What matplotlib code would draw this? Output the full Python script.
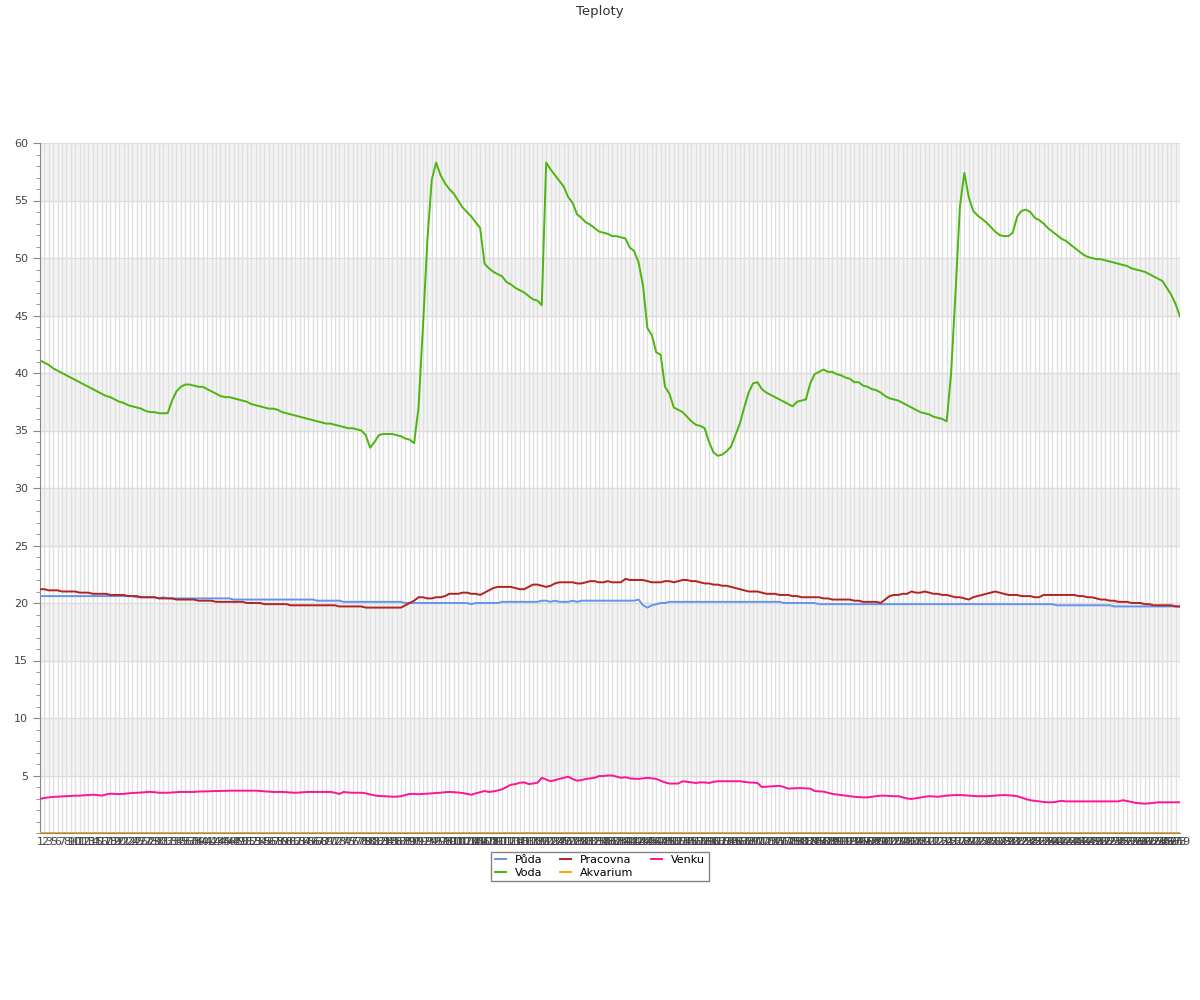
import matplotlib
matplotlib.use("Agg")
from matplotlib import pyplot as plt
from matplotlib.ticker import MultipleLocator

# teploty - hodnoty
voda = [41.1, 40.9, 40.7, 40.4, 40.2, 40.0, 39.8, 39.6, 39.4, 39.2,
        39.0, 38.8, 38.6, 38.4, 38.2, 38.0, 37.9, 37.7, 37.5, 37.4,
        37.2, 37.1, 37.0, 36.9, 36.7, 36.6, 36.6, 36.5, 36.5, 36.5,
        37.6, 38.4, 38.8, 39.0, 39.0, 38.9, 38.8, 38.8, 38.6, 38.4,
        38.2, 38.0, 37.9, 37.9, 37.8, 37.7, 37.6, 37.5, 37.3, 37.2,
        37.1, 37.0, 36.9, 36.9, 36.8, 36.6, 36.5, 36.4, 36.3, 36.2,
        36.1, 36.0, 35.9, 35.8, 35.7, 35.6, 35.6, 35.5, 35.4, 35.3,
        35.2, 35.2, 35.1, 35.0, 34.6, 33.5, 34.0, 34.6, 34.7, 34.7,
        34.7, 34.6, 34.5, 34.3, 34.2, 33.9, 37.0, 44.0, 51.5, 56.8,
        58.3, 57.2, 56.5, 56.0, 55.6, 55.0, 54.4, 54.0, 53.6, 53.1,
        52.6, 49.5, 49.1, 48.8, 48.6, 48.4, 47.9, 47.7, 47.4, 47.2,
        47.0, 46.7, 46.4, 46.3, 45.9, 58.3, 57.7, 57.2, 56.7, 56.2,
        55.3, 54.8, 53.8, 53.5, 53.1, 52.9, 52.6, 52.3, 52.2, 52.1,
        51.9, 51.9, 51.8, 51.7, 50.9, 50.6, 49.6, 47.6, 43.9, 43.3,
        41.8, 41.6, 38.8, 38.2, 37.0, 36.8, 36.6, 36.2, 35.8, 35.5,
        35.4, 35.2, 34.0, 33.1, 32.8, 32.9, 33.2, 33.6, 34.6, 35.6,
        37.0, 38.3, 39.1, 39.2, 38.6, 38.3, 38.1, 37.9, 37.7, 37.5,
        37.3, 37.1, 37.5, 37.6, 37.7, 39.1, 39.9, 40.1, 40.3, 40.1,
        40.1, 39.9, 39.8, 39.6, 39.5, 39.2, 39.2, 38.9, 38.8, 38.6,
        38.5, 38.3, 38.0, 37.8, 37.7, 37.6, 37.4, 37.2, 37.0, 36.8,
        36.6, 36.5, 36.4, 36.2, 36.1, 36.0, 35.8, 40.0, 47.0, 54.5,
        57.4, 55.3, 54.1, 53.7, 53.4, 53.1, 52.7, 52.3, 52.0, 51.9,
        51.9, 52.2, 53.6, 54.1, 54.2, 54.0, 53.5, 53.3, 53.0, 52.6,
        52.3, 52.0, 51.7, 51.5, 51.2, 50.9, 50.6, 50.3, 50.1, 50.0,
        49.9, 49.9, 49.8, 49.7, 49.6, 49.5, 49.4, 49.3, 49.1, 49.0,
        48.9, 48.8, 48.6, 48.4, 48.2, 48.0, 47.4, 46.8, 46.0, 44.9]

pracovna = [21.2, 21.2, 21.1, 21.1, 21.1, 21.0, 21.0, 21.0, 21.0, 20.9,
            20.9, 20.9, 20.8, 20.8, 20.8, 20.8, 20.7, 20.7, 20.7, 20.7,
            20.6, 20.6, 20.6, 20.5, 20.5, 20.5, 20.5, 20.4, 20.4, 20.4,
            20.4, 20.3, 20.3, 20.3, 20.3, 20.3, 20.2, 20.2, 20.2, 20.2,
            20.1, 20.1, 20.1, 20.1, 20.1, 20.1, 20.1, 20.0, 20.0, 20.0,
            20.0, 19.9, 19.9, 19.9, 19.9, 19.9, 19.9, 19.8, 19.8, 19.8,
            19.8, 19.8, 19.8, 19.8, 19.8, 19.8, 19.8, 19.8, 19.7, 19.7,
            19.7, 19.7, 19.7, 19.7, 19.6, 19.6, 19.6, 19.6, 19.6, 19.6,
            19.6, 19.6, 19.6, 19.8, 20.0, 20.2, 20.5, 20.5, 20.4, 20.4,
            20.5, 20.5, 20.6, 20.8, 20.8, 20.8, 20.9, 20.9, 20.8, 20.8,
            20.7, 20.9, 21.1, 21.3, 21.4, 21.4, 21.4, 21.4, 21.3, 21.2,
            21.2, 21.4, 21.6, 21.6, 21.5, 21.4, 21.5, 21.7, 21.8, 21.8,
            21.8, 21.8, 21.7, 21.7, 21.8, 21.9, 21.9, 21.8, 21.8, 21.9,
            21.8, 21.8, 21.8, 22.1, 22.0, 22.0, 22.0, 22.0, 21.9, 21.8,
            21.8, 21.8, 21.9, 21.9, 21.8, 21.9, 22.0, 22.0, 21.9, 21.9,
            21.8, 21.7, 21.7, 21.6, 21.6, 21.5, 21.5, 21.4, 21.3, 21.2,
            21.1, 21.0, 21.0, 21.0, 20.9, 20.8, 20.8, 20.8, 20.7, 20.7,
            20.7, 20.6, 20.6, 20.5, 20.5, 20.5, 20.5, 20.5, 20.4, 20.4,
            20.3, 20.3, 20.3, 20.3, 20.3, 20.2, 20.2, 20.1, 20.1, 20.1,
            20.1, 20.0, 20.3, 20.6, 20.7, 20.7, 20.8, 20.8, 21.0, 20.9,
            20.9, 21.0, 20.9, 20.8, 20.8, 20.7, 20.7, 20.6, 20.5, 20.5,
            20.4, 20.3, 20.5, 20.6, 20.7, 20.8, 20.9, 21.0, 20.9, 20.8,
            20.7, 20.7, 20.7, 20.6, 20.6, 20.6, 20.5, 20.5, 20.7, 20.7,
            20.7, 20.7, 20.7, 20.7, 20.7, 20.7, 20.6, 20.6, 20.5, 20.5,
            20.4, 20.3, 20.3, 20.2, 20.2, 20.1, 20.1, 20.1, 20.0, 20.0,
            20.0, 19.9, 19.9, 19.8, 19.8, 19.8, 19.8, 19.8, 19.7, 19.7]

puda = [20.6, 20.6, 20.6, 20.6, 20.6, 20.6, 20.6, 20.6, 20.6, 20.6,
        20.6, 20.6, 20.6, 20.6, 20.6, 20.6, 20.6, 20.6, 20.6, 20.6,
        20.6, 20.6, 20.5, 20.5, 20.5, 20.5, 20.5, 20.4, 20.5, 20.4,
        20.4, 20.4, 20.4, 20.4, 20.4, 20.4, 20.4, 20.4, 20.4, 20.4,
        20.4, 20.4, 20.4, 20.4, 20.3, 20.3, 20.3, 20.3, 20.3, 20.3,
        20.3, 20.3, 20.3, 20.3, 20.3, 20.3, 20.3, 20.3, 20.3, 20.3,
        20.3, 20.3, 20.3, 20.2, 20.2, 20.2, 20.2, 20.2, 20.2, 20.1,
        20.1, 20.1, 20.1, 20.1, 20.1, 20.1, 20.1, 20.1, 20.1, 20.1,
        20.1, 20.1, 20.1, 20.0, 20.0, 20.0, 20.0, 20.0, 20.0, 20.0,
        20.0, 20.0, 20.0, 20.0, 20.0, 20.0, 20.0, 20.0, 19.9, 20.0,
        20.0, 20.0, 20.0, 20.0, 20.0, 20.1, 20.1, 20.1, 20.1, 20.1,
        20.1, 20.1, 20.1, 20.1, 20.2, 20.2, 20.1, 20.2, 20.1, 20.1,
        20.1, 20.2, 20.1, 20.2, 20.2, 20.2, 20.2, 20.2, 20.2, 20.2,
        20.2, 20.2, 20.2, 20.2, 20.2, 20.2, 20.3, 19.8, 19.6, 19.8,
        19.9, 20.0, 20.0, 20.1, 20.1, 20.1, 20.1, 20.1, 20.1, 20.1,
        20.1, 20.1, 20.1, 20.1, 20.1, 20.1, 20.1, 20.1, 20.1, 20.1,
        20.1, 20.1, 20.1, 20.1, 20.1, 20.1, 20.1, 20.1, 20.1, 20.0,
        20.0, 20.0, 20.0, 20.0, 20.0, 20.0, 20.0, 19.9, 19.9, 19.9,
        19.9, 19.9, 19.9, 19.9, 19.9, 19.9, 19.9, 19.9, 19.9, 19.9,
        19.9, 19.9, 19.9, 19.9, 19.9, 19.9, 19.9, 19.9, 19.9, 19.9,
        19.9, 19.9, 19.9, 19.9, 19.9, 19.9, 19.9, 19.9, 19.9, 19.9,
        19.9, 19.9, 19.9, 19.9, 19.9, 19.9, 19.9, 19.9, 19.9, 19.9,
        19.9, 19.9, 19.9, 19.9, 19.9, 19.9, 19.9, 19.9, 19.9, 19.9,
        19.9, 19.8, 19.8, 19.8, 19.8, 19.8, 19.8, 19.8, 19.8, 19.8,
        19.8, 19.8, 19.8, 19.8, 19.7, 19.7, 19.7, 19.7, 19.7, 19.7,
        19.7, 19.7, 19.7, 19.7, 19.7, 19.7, 19.7, 19.7, 19.7, 19.7]

venku = [2.96, 3.05, 3.1, 3.14, 3.16, 3.18, 3.2, 3.22, 3.25, 3.25,
         3.28, 3.3, 3.33, 3.3, 3.25, 3.35, 3.42, 3.4, 3.38, 3.4,
         3.45, 3.48, 3.5, 3.52, 3.55, 3.57, 3.55, 3.5, 3.5, 3.5,
         3.52, 3.55, 3.57, 3.57, 3.57, 3.57, 3.6, 3.62, 3.62, 3.64,
         3.65, 3.66, 3.66, 3.68, 3.68, 3.68, 3.68, 3.68, 3.68, 3.68,
         3.66, 3.62, 3.6, 3.57, 3.57, 3.57, 3.55, 3.52, 3.5, 3.52,
         3.55, 3.57, 3.57, 3.57, 3.57, 3.57, 3.57, 3.5, 3.4, 3.57,
         3.52, 3.5, 3.5, 3.5, 3.45, 3.35, 3.27, 3.22, 3.2, 3.18,
         3.16, 3.16, 3.2, 3.3, 3.4, 3.4, 3.37, 3.4, 3.42, 3.45,
         3.48, 3.5, 3.55, 3.57, 3.55, 3.52, 3.48, 3.4, 3.33, 3.45,
         3.55, 3.65, 3.57, 3.62, 3.7, 3.8, 4.0, 4.2, 4.25, 4.37,
         4.4, 4.26, 4.3, 4.37, 4.8, 4.65, 4.5, 4.6, 4.7, 4.8,
         4.9, 4.7, 4.55, 4.6, 4.7, 4.75, 4.8, 4.95, 4.95, 5.0,
         5.0, 4.9, 4.8, 4.85, 4.75, 4.72, 4.7, 4.75, 4.8, 4.75,
         4.7, 4.55, 4.4, 4.3, 4.3, 4.3, 4.5, 4.45, 4.4, 4.35,
         4.4, 4.4, 4.35, 4.45, 4.5, 4.5, 4.5, 4.5, 4.5, 4.5,
         4.45, 4.4, 4.38, 4.35, 4.0, 4.02, 4.05, 4.08, 4.1, 4.0,
         3.86, 3.88, 3.9, 3.9, 3.88, 3.86, 3.65, 3.62, 3.6, 3.5,
         3.4, 3.35, 3.3, 3.25, 3.2, 3.15, 3.12, 3.1, 3.1, 3.15,
         3.2, 3.25, 3.25, 3.22, 3.2, 3.2, 3.1, 3.0, 2.96, 3.02,
         3.08, 3.15, 3.2, 3.18, 3.15, 3.2, 3.25, 3.28, 3.3, 3.3,
         3.28, 3.25, 3.22, 3.2, 3.2, 3.2, 3.22, 3.25, 3.28, 3.3,
         3.28, 3.25, 3.2, 3.07, 2.95, 2.85, 2.8, 2.75, 2.7, 2.67,
         2.67, 2.72, 2.8, 2.75, 2.75, 2.75, 2.75, 2.75, 2.75, 2.75,
         2.75, 2.75, 2.75, 2.75, 2.75, 2.75, 2.85, 2.78, 2.7, 2.62,
         2.58, 2.55, 2.58, 2.62, 2.67, 2.67, 2.67, 2.67, 2.67, 2.67]

akvarium = [0, 0, 0, 0, 0, 0, 0, 0, 0, 0, 0, 0, 0, 0, 0, 0, 0, 0, 0, 0,
            0, 0, 0, 0, 0, 0, 0, 0, 0, 0, 0, 0, 0, 0, 0, 0, 0, 0, 0, 0,
            0, 0, 0, 0, 0, 0, 0, 0, 0, 0, 0, 0, 0, 0, 0, 0, 0, 0, 0, 0,
            0, 0, 0, 0, 0, 0, 0, 0, 0, 0, 0, 0, 0, 0, 0, 0, 0, 0, 0, 0,
            0, 0, 0, 0, 0, 0, 0, 0, 0, 0, 0, 0, 0, 0, 0, 0, 0, 0, 0, 0,
            0, 0, 0, 0, 0, 0, 0, 0, 0, 0, 0, 0, 0, 0, 0, 0, 0, 0, 0, 0,
            0, 0, 0, 0, 0, 0, 0, 0, 0, 0, 0, 0, 0, 0, 0, 0, 0, 0, 0, 0,
            0, 0, 0, 0, 0, 0, 0, 0, 0, 0, 0, 0, 0, 0, 0, 0, 0, 0, 0, 0,
            0, 0, 0, 0, 0, 0, 0, 0, 0, 0, 0, 0, 0, 0, 0, 0, 0, 0, 0, 0,
            0, 0, 0, 0, 0, 0, 0, 0, 0, 0, 0, 0, 0, 0, 0, 0, 0, 0, 0, 0,
            0, 0, 0, 0, 0, 0, 0, 0, 0, 0, 0, 0, 0, 0, 0, 0, 0, 0, 0, 0,
            0, 0, 0, 0, 0, 0, 0, 0, 0, 0, 0, 0, 0, 0, 0, 0, 0, 0, 0, 0,
            0, 0, 0, 0, 0, 0, 0, 0, 0, 0, 0, 0, 0, 0, 0, 0, 0, 0, 0, 0]

# popisky osy x (cisla mereni, nektera chybi)
skipped = [4, 23, 47, 71, 96, 120, 151, 183, 222]
labels = [str(n) for n in range(1, 270) if n not in skipped]

series = [("Půda", puda, "#6495ed"),
          ("Voda", voda, "#4cb50e"),
          ("Pracovna", pracovna, "#b22222"),
          ("Akvarium", akvarium, "#ffa500"),
          ("Venku", venku, "#ff1493")]

fig = plt.figure(figsize=(12, 10), dpi=100)
ax = fig.add_axes([40/1200, 1-833/1000, 1140/1200, 690/1000])

# sede pruhy
for lo in range(5, 60, 10):
    ax.axhspan(lo, lo+5, color="#f3f3f3", zorder=0, lw=0)

n = len(voda)
xs = list(range(n))
for name, vals, col in series:
    ax.plot(list(range(len(vals))), vals, color=col, lw=1.4, label=name, zorder=3)

ax.set_xlim(0, n-1)
ax.set_ylim(0, 60)
ax.set_xticks(xs)
ax.set_xticklabels(labels[:n], fontsize=8, color="#444")
ax.tick_params(axis="x", length=0, pad=3)
ax.xaxis.grid(True, color="#e0e0e0", lw=1, zorder=1)

ax.yaxis.set_major_locator(MultipleLocator(5))
ax.yaxis.set_minor_locator(MultipleLocator(1))
ax.set_yticks(range(5, 61, 5))
ax.tick_params(axis="y", which="major", length=5, color="#888", labelsize=8, labelcolor="#444")
ax.tick_params(axis="y", which="minor", length=3, color="#888")
ax.yaxis.grid(True, which="major", color="#dcdcdc", lw=1)
ax.set_axisbelow(True)

for s in ["top", "right"]:
    ax.spines[s].set_visible(False)
ax.spines["left"].set_color("#888")
ax.spines["bottom"].set_color("#888")

fig.text(0.5, 1-11/1000, "Teploty", ha="center", va="center", fontsize=9.5, color="#333")

fig.legend(loc="upper center", bbox_to_anchor=(0.5, 1-846/1000), ncol=3, fontsize=8,
           frameon=True, fancybox=False, edgecolor="#666", handlelength=1.0,
           handletextpad=0.8, columnspacing=1.6, borderpad=0.3, labelspacing=0.25)

fig.savefig("out.png", dpi=100)
